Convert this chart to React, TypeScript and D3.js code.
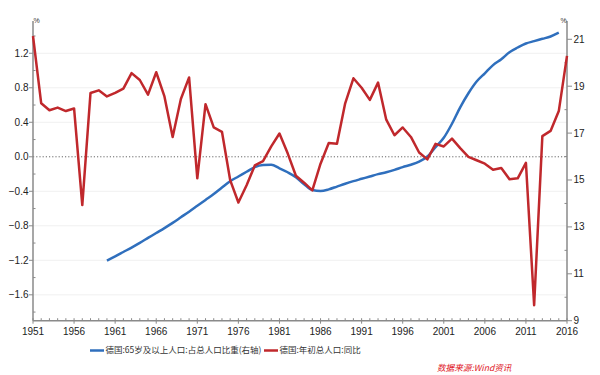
import React from "react";
import * as d3 from "d3";

const years: number[] = d3.range(1951, 2017);
// 德国:年初总人口:同比 (%), 1951-2016
const popGrowth: number[] = [
  1.4, 0.62, 0.54, 0.57, 0.53, 0.56, -0.56, 0.74, 0.77, 0.7,
  0.74, 0.79, 0.97, 0.89, 0.72, 0.98, 0.7, 0.23, 0.67, 0.92,
  -0.25, 0.61, 0.34, 0.29, -0.27, -0.53, -0.33, -0.1, -0.05, 0.12,
  0.27, 0.04, -0.22, -0.3, -0.39, -0.08, 0.16, 0.15, 0.62, 0.91,
  0.8, 0.66, 0.86, 0.43, 0.25, 0.34, 0.23, 0.05, -0.03, 0.15,
  0.12, 0.21, 0.1, 0.0, -0.04, -0.08, -0.15, -0.13, -0.26, -0.25,
  -0.07, -1.72, 0.24, 0.3, 0.53, 1.17,
];
const elderYears: number[] = d3.range(1960, 2016);
// 德国:65岁及以上人口:占总人口比重 (%), 1960-2015
const elderShare: number[] = [
  11.56, 11.74, 11.93, 12.12, 12.32, 12.53, 12.74, 12.95, 13.17, 13.41,
  13.65, 13.9, 14.15, 14.4, 14.68, 14.95, 15.15, 15.35, 15.55, 15.64,
  15.65, 15.5, 15.33, 15.12, 14.82, 14.57, 14.53, 14.6, 14.72, 14.84,
  14.95, 15.05, 15.15, 15.25, 15.33, 15.43, 15.55, 15.65, 15.78, 16.0,
  16.4, 16.8, 17.4, 18.1, 18.7, 19.2, 19.55, 19.9, 20.15, 20.45,
  20.65, 20.82, 20.92, 21.02, 21.12, 21.28,
];
const leftTicks: number[] = [-1.6, -1.2, -0.8, -0.4, 0.0, 0.4, 0.8, 1.2];
const leftMinor: number[] = [-1.8, -1.4, -1.0, -0.6, -0.2, 0.2, 0.6, 1.0, 1.4];
const rightTicks: number[] = [9, 11, 13, 15, 17, 19, 21];
const rightMinor: number[] = [10, 12, 14, 16, 18, 20];
const xTicks: number[] = d3.range(1951, 2017, 5);
const legendLabels: string[] = ["德国:65岁及以上人口:占总人口比重(右轴)", "德国:年初总人口:同比"];
const sourceLabel = "数据来源:Wind资讯";

const BLUE = "#2f6fbd";
const RED = "#c0282c";
const AXIS = "#8a8a8a";
const FONT = "'Liberation Sans', Arial, sans-serif";
const CJK = "'Noto Sans CJK SC', sans-serif";

export default function App() {
  const x = d3.scaleLinear().domain([1951, 2016]).range([33, 567]);
  const yL = d3.scaleLinear().domain([-1.9, 1.574]).range([320.7, 21]);
  const yR = d3.scaleLinear().domain([9, 21.78]).range([320.7, 21]);
  const left = 33, right = 567, bottom = 320.7, top = 21;

  const redLine = d3.line<number>().x((_, i) => x(years[i])).y((d) => yL(d))(popGrowth) || "";
  const blueLine = d3.line<number>().x((_, i) => x(elderYears[i])).y((d) => yR(d)).curve(d3.curveMonotoneX)(elderShare) || "";
  const fmt = d3.format(".1f");

  return (
    <svg width={600} height={375} style={{ position: "absolute", left: 0, top: 0, background: "#fff" }}>
      {/* grid */}
      {leftTicks.filter((t) => t !== 0).map((t) => (
        <line key={"g" + t} x1={left} x2={right} y1={yL(t)} y2={yL(t)} stroke="#f0f0f0" strokeWidth={1} />
      ))}
      <line x1={left} x2={right} y1={yL(0)} y2={yL(0)} stroke="#666" strokeWidth={1} strokeDasharray="1.2,2" />

      {/* axes */}
      <line x1={left} x2={left} y1={top} y2={bottom} stroke={AXIS} strokeWidth={1.5} />
      <line x1={right} x2={right} y1={top} y2={bottom} stroke={AXIS} strokeWidth={1.5} />
      <line x1={left} x2={right} y1={bottom} y2={bottom} stroke={AXIS} strokeWidth={1.5} />

      {leftTicks.map((t) => (
        <g key={"l" + t}>
          <line x1={left - 4} x2={left} y1={yL(t)} y2={yL(t)} stroke={AXIS} strokeWidth={1} />
          <text x={28.5} y={yL(t)} dy="0.35em" textAnchor="end" fontSize={10} fontFamily={FONT} fill="#222">
            {fmt(t)}
          </text>
        </g>
      ))}
      {leftMinor.map((t) => (
        <line key={"lm" + t} x1={left} x2={left + 2.5} y1={yL(t)} y2={yL(t)} stroke={AXIS} strokeWidth={1} />
      ))}
      {rightTicks.map((t) => (
        <g key={"r" + t}>
          <line x1={right} x2={right + 5} y1={yR(t)} y2={yR(t)} stroke={AXIS} strokeWidth={1} />
          <text x={573.5} y={yR(t)} dy="0.35em" textAnchor="start" fontSize={10} fontFamily={FONT} fill="#222">
            {t}
          </text>
        </g>
      ))}
      {rightMinor.map((t) => (
        <line key={"rm" + t} x1={right - 2.5} x2={right} y1={yR(t)} y2={yR(t)} stroke={AXIS} strokeWidth={1} />
      ))}
      {years.map((yr) => (
        <line key={"xm" + yr} x1={x(yr)} x2={x(yr)} y1={bottom} y2={bottom - 2.5} stroke={AXIS} strokeWidth={1} />
      ))}
      {xTicks.map((yr) => (
        <g key={"x" + yr}>
          <line x1={x(yr)} x2={x(yr)} y1={bottom} y2={bottom + 3} stroke={AXIS} strokeWidth={1} />
          <text x={x(yr)} y={335} textAnchor="middle" fontSize={10} fontFamily={FONT} fill="#222">
            {yr}
          </text>
        </g>
      ))}
      <text x={33.5} y={23} fontSize={7} fontFamily={FONT} fill="#333">%</text>
      <text x={560.5} y={23} fontSize={7} fontFamily={FONT} fill="#333">%</text>

      {/* series */}
      <path d={blueLine} fill="none" stroke={BLUE} strokeWidth={2.5} strokeLinejoin="round" />
      <path d={redLine} fill="none" stroke={RED} strokeWidth={2.5} strokeLinejoin="round" />

      {/* legend */}
      <line x1={90} x2={104} y1={350.5} y2={350.5} stroke={BLUE} strokeWidth={2.5} />
      <text x={105.5} y={350.5} dy="0.35em" fontSize={8.5} fontFamily={CJK} fill="#333">{legendLabels[0]}</text>
      <line x1={264} x2={278} y1={350.5} y2={350.5} stroke={RED} strokeWidth={2.5} />
      <text x={279.5} y={350.5} dy="0.35em" fontSize={8.5} fontFamily={CJK} fill="#333">{legendLabels[1]}</text>

      <text x={437} y={368} dy="0.35em" fontSize={8.6} fontFamily={CJK} fontStyle="italic" fill="#e0141e">{sourceLabel}</text>
    </svg>
  );
}
